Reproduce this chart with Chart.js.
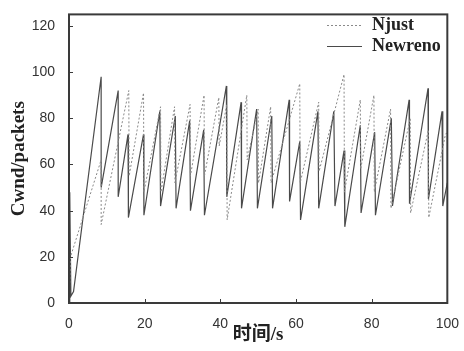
<!DOCTYPE html>
<html>
<head>
<meta charset="utf-8">
<script src="https://cdn.jsdelivr.net/npm/chart.js@4.4.1/dist/chart.umd.min.js"></script>
<style>
  html, body { margin: 0; padding: 0; background: #fff; }
  #wrap { width: 464px; height: 351px; }
</style>
</head>
<body>
<div id="wrap"><canvas id="cwndChart" width="464" height="351"></canvas></div>
<script>
// time (s) / cwnd (packets): peak then drop at each loss
const newrenoT = [0, 0.2, 0.5, 1.2, 8.5, 8.5, 13, 13, 15.6, 15.7, 19.7, 19.8, 24, 24.2, 28.1, 28.3, 31.9, 32.1, 35.6, 35.8, 41.6, 41.7, 45.5, 45.6, 49.6, 49.8, 53.6, 53.8, 58.2, 58.3, 61, 61.2, 65.8, 66, 70, 70.3, 72.7, 72.9, 77, 77.2, 80.8, 81, 85.2, 85.5, 89.9, 90, 94.9, 95, 98.6, 98.8, 100];
const newrenoV = [0, 48, 3, 5, 98, 50, 92, 46, 73, 37, 73, 38, 83, 42, 81, 41, 79, 40, 75, 38, 94, 46, 87, 41, 84, 41, 81, 41, 88, 44, 70, 36, 83, 41, 83, 42, 66, 33, 77, 39, 74, 38, 80, 42, 88, 43, 93, 45, 83, 42, 52];

const njustT = [0, 0.4, 8.5, 8.5, 15.8, 15.9, 19.7, 19.8, 24.2, 24.3, 27.9, 28, 32, 32.1, 35.7, 35.8, 39.6, 39.7, 41.7, 41.8, 47, 47.1, 50, 50.1, 53.3, 53.4, 61, 61.1, 66, 66.1, 72.7, 72.8, 77, 77.1, 80.6, 80.7, 85, 85.1, 90.2, 90.3, 95, 95.1, 99.5, 100];
const njustV = [0, 20, 62, 34, 92, 55, 91, 48, 85, 48, 85, 52, 86, 55, 90, 55, 89, 68, 86, 36, 90, 62, 84, 52, 85, 52, 95, 52, 87, 57, 99, 48, 88, 58, 90, 48, 84, 41, 80, 39, 75, 37, 73, 74];

const xTicks = [0, 20, 40, 60, 80, 100];
const yTicks = [0, 20, 40, 60, 80, 100, 120];

const toPoints = (ts, vs) => ts.map((t, i) => ({ x: t, y: vs[i] }));

const AXIS = '#3a3a3a';
const tickFont = { family: "'Liberation Sans', Arial, sans-serif", size: 14 };
const titleFont = { family: "'Liberation Serif', 'Noto Sans CJK SC', serif", size: 19, weight: 'bold' };

// frame round the plot, inward tick marks and the legend in the upper right corner
const framePlugin = {
  id: 'frame',
  afterDatasetsDraw(chart) {
    const { ctx, chartArea: a, scales } = chart;
    ctx.save();
    ctx.strokeStyle = AXIS;
    ctx.lineWidth = 2;
    ctx.strokeRect(a.left, a.top, a.right - a.left, a.bottom - a.top);

    ctx.lineWidth = 1;
    ctx.beginPath();
    xTicks.forEach(v => {
      const x = Math.round(scales.x.getPixelForValue(v)) + 0.5;
      ctx.moveTo(x, a.bottom); ctx.lineTo(x, a.bottom - 4);
    });
    yTicks.forEach(v => {
      const y = Math.round(scales.y.getPixelForValue(v)) + 0.5;
      ctx.moveTo(a.left, y); ctx.lineTo(a.left + 4, y);
    });
    ctx.stroke();

    ctx.font = "bold 18px 'Liberation Serif', serif";
    ctx.textBaseline = 'middle';
    ctx.fillStyle = '#222';
    chart.data.datasets.forEach((ds, i) => {
      const y = 25 + i * 21;
      ctx.strokeStyle = ds.borderColor;
      ctx.lineWidth = 1;
      ctx.setLineDash(ds.borderDash || []);
      ctx.beginPath();
      ctx.moveTo(327, y + 0.5); ctx.lineTo(362, y + 0.5);
      ctx.stroke();
      ctx.setLineDash([]);
      ctx.fillText(ds.label, 372, y);
    });
    ctx.restore();
  }
};

new Chart(document.getElementById('cwndChart').getContext('2d'), {
  type: 'line',
  data: {
    datasets: [
      {
        label: 'Njust',
        data: toPoints(njustT, njustV),
        borderColor: '#8a8a8a',
        borderWidth: 1,
        borderDash: [2, 2],
        pointRadius: 0,
        tension: 0
      },
      {
        label: 'Newreno',
        data: toPoints(newrenoT, newrenoV),
        borderColor: '#4a4a4a',
        borderWidth: 1.2,
        pointRadius: 0,
        tension: 0
      }
    ]
  },
  options: {
    responsive: false,
    animation: false,
    layout: { padding: { top: 12, right: 15, left: 0, bottom: 0 } },
    plugins: {
      legend: { display: false },
      tooltip: { enabled: false }
    },
    scales: {
      x: {
        type: 'linear',
        min: 0,
        max: 100,
        afterBuildTicks: s => { s.ticks = xTicks.map(v => ({ value: v })); },
        afterFit: s => { s.height = 48; },
        grid: { display: false },
        border: { display: false },
        ticks: { font: tickFont, color: '#333', padding: 5, maxRotation: 0 },
        title: { display: true, text: '时间/s', font: titleFont, color: '#222', padding: { top: 0, bottom: 5 } }
      },
      y: {
        min: 0,
        max: 125,
        afterBuildTicks: s => { s.ticks = yTicks.map(v => ({ value: v })); },
        afterFit: s => { s.width = 69; },
        grid: { display: false },
        border: { display: false },
        ticks: { font: tickFont, color: '#333', padding: 6 },
        title: { display: true, text: 'Cwnd/packets', font: titleFont, color: '#222', padding: { top: 8, bottom: 0 } }
      }
    }
  },
  plugins: [framePlugin]
});
</script>
</body>
</html>
